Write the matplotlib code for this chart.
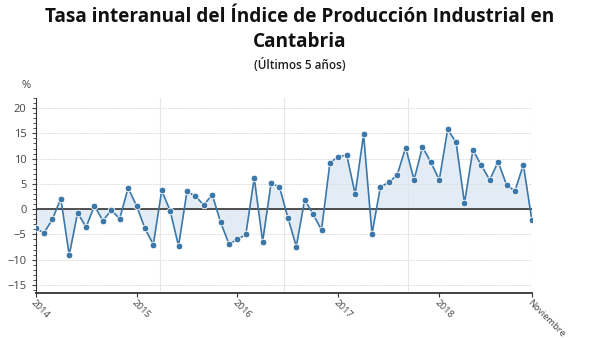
import numpy as np
import matplotlib.pyplot as plt
from matplotlib.ticker import MultipleLocator

plt.rcParams['font.family'] = ['Open Sans', 'DejaVu Sans']

# Tasa interanual mensual del IPI (%), últimos 60 meses
tasa = [-3.8, -4.7, -2.0, 2.1, -9.1, -0.7, -3.6, 0.7, -2.3, -0.2,
        -1.9, 4.2, 0.7, -3.8, -7.0, 3.7, -0.3, -7.3, 3.5, 2.6,
        0.8, 2.9, -2.6, -6.9, -6.0, -5.0, 6.2, -6.4, 5.1, 4.4,
        -1.7, -7.4, 1.9, -1.0, -4.1, 9.2, 10.4, 10.7, 3.0, 14.8,
        -4.9, 4.4, 5.3, 6.8, 12.2, 5.8, 12.3, 9.3, 5.8, 15.8,
        13.2, 1.2, 11.7, 8.7, 5.8, 9.4, 4.8, 3.6, 8.8, -2.1]
etiquetas = ['2014', '2015', '2016', '2017', '2018', 'Noviembre']
pos_etiquetas = [0, 12, 24, 36, 48, 59]

x = np.arange(len(tasa))
y = np.array(tasa)

fig = plt.figure(figsize=(6, 3.38), dpi=100)
ax = fig.add_axes([0.0593, 0.133, 0.827, 0.577])

azul = '#3b77a8'
ax.fill_between(x, y, 0, color='#dae6f1', alpha=0.75, lw=0, zorder=1)
ax.plot(x, y, color=azul, lw=1.2, zorder=3)
ax.plot(x, y, 'o', ms=4.8, color=azul, mec='white', mew=0.6, zorder=4)
ax.axhline(0, color='#222222', lw=1.1, zorder=2)

ax.set_xlim(0, 59)
ax.set_ylim(-16.6, 22)
ax.yaxis.set_major_locator(MultipleLocator(5))
ax.yaxis.set_minor_locator(MultipleLocator(1))
ax.set_xticks(pos_etiquetas)
ax.set_xticklabels(etiquetas, rotation=-45, ha='left', va='top',
                   rotation_mode='anchor', fontsize=6.8, color='#444444')
ax.tick_params(axis='y', labelsize=8, colors='#444444', length=3, width=0.8)
ax.tick_params(axis='y', which='minor', length=2, width=0.6, color='#333333')
ax.tick_params(axis='x', length=3, width=0.8, color='#333333', pad=0.5)

# rejilla horizontal y vertical
ax.grid(axis='y', color='#dddddd', lw=0.7, ls=(0, (2, 1)), zorder=0)
for gx in np.linspace(0, 59, 5)[1:]:
    ax.axvline(gx, color='#e6e6e6', lw=0.8, zorder=0)

for s in ['top', 'right']:
    ax.spines[s].set_visible(False)
ax.spines['left'].set_color('#333333')
ax.spines['bottom'].set_color('#333333')
ax.spines['bottom'].set_linewidth(1.3)

fig.text(0.5, 0.912, 'Tasa interanual del Índice de Producción Industrial en\nCantabria',
         ha='center', va='center', fontsize=13.7, fontweight='bold',
         color='#111111', linespacing=1.35)
fig.text(0.5, 0.807, '(Últimos 5 años)', ha='center', va='center',
         fontsize=8.5, fontweight='semibold', color='#222222')
fig.text(0.043, 0.748, '%', ha='center', va='center', fontsize=8, color='#444444')

fig.savefig('out.png', dpi=100)
